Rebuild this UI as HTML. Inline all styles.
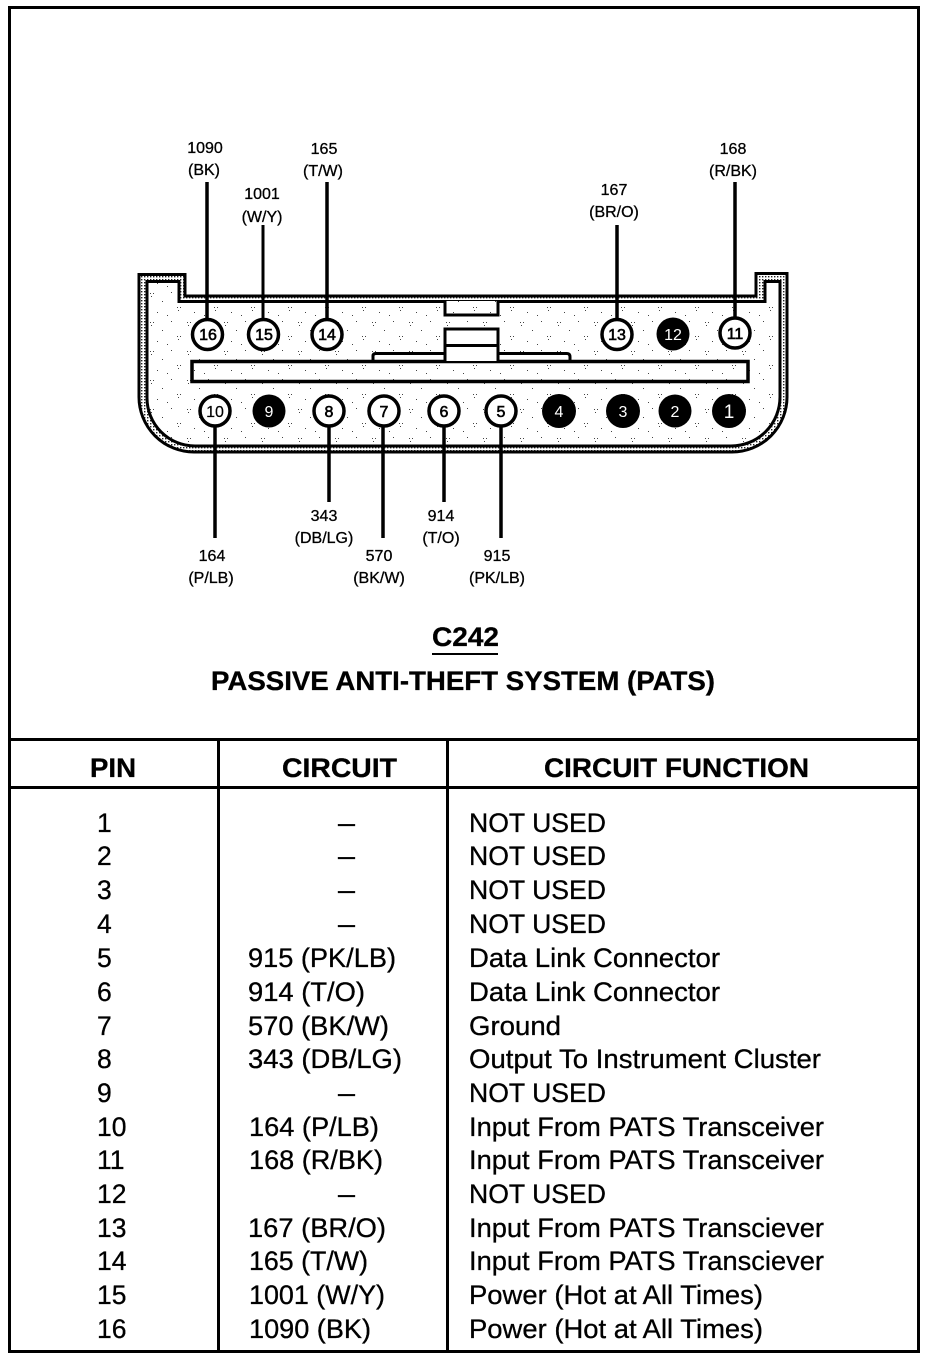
<!DOCTYPE html>
<html><head><meta charset="utf-8"><title>C242</title>
<style>html,body{margin:0;padding:0;background:#fff}svg{display:block}
text{font-family:"Liberation Sans",sans-serif;fill:#000}
.s{font-size:16px;text-anchor:middle;stroke:#000;stroke-width:.3}
.p{font-size:16px;text-anchor:middle;stroke:#000;stroke-width:.6}
.w{font-size:16px;text-anchor:middle}
.t{font-size:26.5px;stroke:#000;stroke-width:.3}
.c{text-anchor:middle}
.b{font-weight:bold;font-size:27px;stroke:#000;stroke-width:.3}
</style></head><body>
<svg width="928" height="1360" viewBox="0 0 928 1360" xmlns="http://www.w3.org/2000/svg">
<defs><pattern id="d" width="37" height="29" patternUnits="userSpaceOnUse">
<rect width="37" height="29" fill="#fff"/>
<g fill="#444"><rect x="2" y="3" width="1" height="1"/><rect x="5" y="3" width="1" height="1"/><rect x="3" y="6" width="1" height="1"/><rect x="14" y="11" width="1" height="1"/><rect x="23" y="2" width="1" height="1"/><rect x="29" y="17" width="1" height="1"/><rect x="32" y="17" width="1" height="1"/><rect x="30" y="20" width="1" height="1"/><rect x="9" y="22" width="1" height="1"/><rect x="19" y="25" width="1" height="1"/></g></pattern>
<pattern id="e" width="3" height="3" patternUnits="userSpaceOnUse"><rect width="3" height="3" fill="#fff"/><rect x="0" y="0" width="1.4" height="1.4" fill="#222"/></pattern></defs>
<rect x="0" y="0" width="928" height="1360" fill="#fff"/>
<rect x="9.5" y="7.500" width="909" height="1344" fill="none" stroke="#000" stroke-width="3"/>
<g fill="none" stroke="#000">
<path d="M139 274.500H185V296H756V273.500H787V397A55 55 0 0 1 732 452H194A55 55 0 0 1 139 397Z" fill="url(#e)" stroke-width="3"/>
<path d="M147 281.500H179V301.500H765V281.500H780V397A49 49 0 0 1 731 446H195A48 48 0 0 1 147 398Z" fill="url(#d)" stroke-width="3"/>
<path d="M373 361V356Q373 353.500 376 353.500H567Q570 353.500 570 357V361" fill="#fff" stroke-width="3"/>
<rect x="192" y="361.500" width="556" height="20" fill="url(#d)" stroke-width="3.500"/>
<path d="M445 301V315H498V301" stroke-width="3" fill="url(#d)"/>
<path d="M445 361V329H498V361M445 345.500H498" stroke-width="3" fill="#fff"/>
</g>
<g stroke="#000" stroke-width="3.500">
<path d="M207 182V318M327 182V318M617 225V318M735 182V317M215 427V538M329 427V502M383 427V538M444 427V502M501 427V538"/>
<path d="M263 225V318" stroke-width="3"/>
</g>
<g fill="#fff" stroke="#000" stroke-width="3.500">
<circle cx="207.500" cy="334.500" r="15"/><circle cx="263.500" cy="334.500" r="15"/><circle cx="327" cy="334.500" r="15"/><circle cx="617" cy="334.500" r="15"/><circle cx="735" cy="333" r="15"/>
<circle cx="215" cy="411" r="15"/><circle cx="329" cy="411" r="15"/><circle cx="384" cy="411" r="15"/><circle cx="444" cy="411" r="15"/><circle cx="501" cy="411" r="15"/>
</g>
<g fill="#000">
<circle cx="673" cy="334" r="16.500"/><circle cx="269" cy="411" r="16.500"/><circle cx="559" cy="411" r="17"/><circle cx="623" cy="411" r="17"/><circle cx="675" cy="411" r="16.500"/><circle cx="729" cy="411" r="17"/>
</g>
<text class="p" x="208" y="340">16</text><text class="p" x="264" y="340">15</text><text class="p" x="327" y="340">14</text><text class="p" x="617" y="340">13</text><text class="p" x="735" y="339">11</text>
<text class="p" x="215" y="417" style="stroke-width:.2">10</text><text class="p" x="329" y="417">8</text><text class="p" x="384" y="417">7</text><text class="p" x="444" y="417">6</text><text class="p" x="501" y="417">5</text>
<text class="w" style="fill:#fff" x="673" y="340">12</text><text class="w" style="fill:#fff" x="269" y="417">9</text><text class="w" style="fill:#fff" x="559" y="417">4</text><text class="w" style="fill:#fff" x="623" y="417">3</text><text class="w" style="fill:#fff" x="675" y="417">2</text><text class="w" style="fill:#fff;font-size:19px" x="729" y="418">1</text>

<text class="s" x="205" y="153">1090</text><text class="s" x="204" y="175">(BK)</text>
<text class="s" x="262" y="199">1001</text><text class="s" x="262" y="222">(W/Y)</text>
<text class="s" x="324" y="154">165</text><text class="s" x="323" y="176">(T/W)</text>
<text class="s" x="614" y="195">167</text><text class="s" x="614" y="217">(BR/O)</text>
<text class="s" x="733" y="154">168</text><text class="s" x="733" y="176">(R/BK)</text>
<text class="s" x="212" y="561">164</text><text class="s" x="211" y="583">(P/LB)</text>
<text class="s" x="324" y="521">343</text><text class="s" x="324" y="543">(DB/LG)</text>
<text class="s" x="379" y="561">570</text><text class="s" x="379" y="583">(BK/W)</text>
<text class="s" x="441" y="521">914</text><text class="s" x="441" y="543">(T/O)</text>
<text class="s" x="497" y="561">915</text><text class="s" x="497" y="583">(PK/LB)</text>

<text class="b" x="432" y="646" textLength="67" lengthAdjust="spacingAndGlyphs">C242</text>
<rect x="432" y="653" width="66" height="2" fill="#000"/>
<text class="b" x="211" y="690" textLength="504" lengthAdjust="spacingAndGlyphs">PASSIVE ANTI-THEFT SYSTEM (PATS)</text>

<g stroke="#000" fill="none">
<path d="M9 739.500H919" stroke-width="3"/><path d="M9 787.500H919" stroke-width="3"/>
<path d="M218.500 739V1351M447.500 739V1351" stroke-width="3"/>
</g>
<text class="b" x="90" y="777" textLength="46" lengthAdjust="spacingAndGlyphs">PIN</text>
<text class="b" x="282" y="777" textLength="115" lengthAdjust="spacingAndGlyphs">CIRCUIT</text>
<text class="b" x="544" y="777" textLength="265" lengthAdjust="spacingAndGlyphs">CIRCUIT FUNCTION</text>

<text class="t" x="97" y="832">1</text><text class="t" x="97" y="865">2</text><text class="t" x="97" y="899">3</text><text class="t" x="97" y="933">4</text><text class="t" x="97" y="967">5</text><text class="t" x="97" y="1001">6</text><text class="t" x="97" y="1035">7</text><text class="t" x="97" y="1068">8</text><text class="t" x="97" y="1102">9</text>
<text class="t" x="97" y="1136">10</text><text class="t" x="97" y="1169">11</text><text class="t" x="97" y="1203">12</text><text class="t" x="97" y="1237">13</text><text class="t" x="97" y="1270">14</text><text class="t" x="97" y="1304">15</text><text class="t" x="97" y="1338">16</text>

<text class="t" x="248" y="967" textLength="148" lengthAdjust="spacingAndGlyphs">915 (PK/LB)</text>
<text class="t" x="248" y="1001" textLength="117" lengthAdjust="spacingAndGlyphs">914 (T/O)</text>
<text class="t" x="248" y="1035" textLength="141" lengthAdjust="spacingAndGlyphs">570 (BK/W)</text>
<text class="t" x="248" y="1068" textLength="154" lengthAdjust="spacingAndGlyphs">343 (DB/LG)</text>
<text class="t" x="249" y="1136" textLength="130" lengthAdjust="spacingAndGlyphs">164 (P/LB)</text>
<text class="t" x="249" y="1169" textLength="134" lengthAdjust="spacingAndGlyphs">168 (R/BK)</text>
<text class="t" x="248" y="1237" textLength="138" lengthAdjust="spacingAndGlyphs">167 (BR/O)</text>
<text class="t" x="249" y="1270" textLength="119" lengthAdjust="spacingAndGlyphs">165 (T/W)</text>
<text class="t" x="249" y="1304" textLength="136" lengthAdjust="spacingAndGlyphs">1001 (W/Y)</text>
<text class="t" x="249" y="1338" textLength="122" lengthAdjust="spacingAndGlyphs">1090 (BK)</text>

<text class="t" x="338" y="832" textLength="17" lengthAdjust="spacingAndGlyphs">–</text><text class="t" x="338" y="865" textLength="17" lengthAdjust="spacingAndGlyphs">–</text><text class="t" x="338" y="899" textLength="17" lengthAdjust="spacingAndGlyphs">–</text><text class="t" x="338" y="933" textLength="17" lengthAdjust="spacingAndGlyphs">–</text><text class="t" x="338" y="1102" textLength="17" lengthAdjust="spacingAndGlyphs">–</text><text class="t" x="338" y="1203" textLength="17" lengthAdjust="spacingAndGlyphs">–</text>

<text class="t" x="469" y="832" textLength="137" lengthAdjust="spacingAndGlyphs">NOT USED</text>
<text class="t" x="469" y="865" textLength="137" lengthAdjust="spacingAndGlyphs">NOT USED</text>
<text class="t" x="469" y="899" textLength="137" lengthAdjust="spacingAndGlyphs">NOT USED</text>
<text class="t" x="469" y="933" textLength="137" lengthAdjust="spacingAndGlyphs">NOT USED</text>
<text class="t" x="469" y="967" textLength="251" lengthAdjust="spacingAndGlyphs">Data Link Connector</text>
<text class="t" x="469" y="1001" textLength="251" lengthAdjust="spacingAndGlyphs">Data Link Connector</text>
<text class="t" x="469" y="1035" textLength="92" lengthAdjust="spacingAndGlyphs">Ground</text>
<text class="t" x="469" y="1068" textLength="352" lengthAdjust="spacingAndGlyphs">Output To Instrument Cluster</text>
<text class="t" x="469" y="1102" textLength="137" lengthAdjust="spacingAndGlyphs">NOT USED</text>
<text class="t" x="469" y="1136" textLength="355" lengthAdjust="spacingAndGlyphs">Input From PATS Transceiver</text>
<text class="t" x="469" y="1169" textLength="355" lengthAdjust="spacingAndGlyphs">Input From PATS Transceiver</text>
<text class="t" x="469" y="1203" textLength="137" lengthAdjust="spacingAndGlyphs">NOT USED</text>
<text class="t" x="469" y="1237" textLength="355" lengthAdjust="spacingAndGlyphs">Input From PATS Transciever</text>
<text class="t" x="469" y="1270" textLength="355" lengthAdjust="spacingAndGlyphs">Input From PATS Transciever</text>
<text class="t" x="469" y="1304" textLength="294" lengthAdjust="spacingAndGlyphs">Power (Hot at All Times)</text>
<text class="t" x="469" y="1338" textLength="294" lengthAdjust="spacingAndGlyphs">Power (Hot at All Times)</text>
</svg>
</body></html>
